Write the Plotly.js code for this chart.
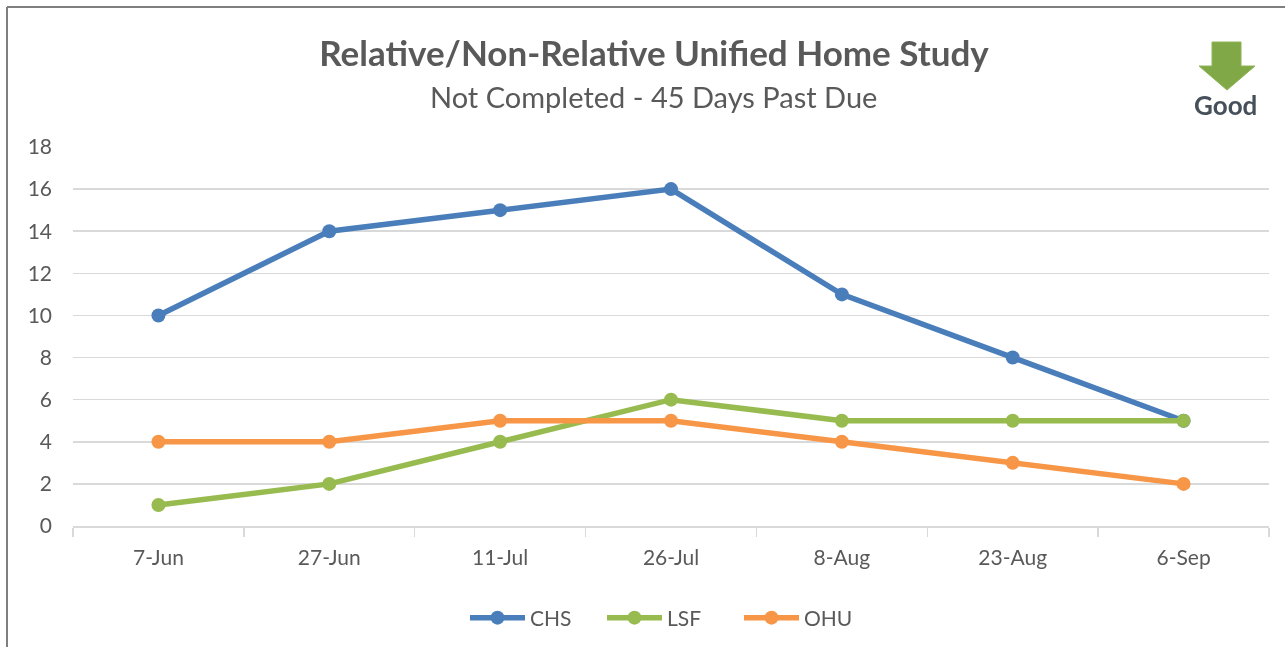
<!DOCTYPE html>
<html><head><meta charset="utf-8">
<script src="https://cdn.plot.ly/plotly-3.0.0.min.js"></script>
<style>html,body{margin:0;padding:0;background:#fff;overflow:hidden}#c{width:1285px;height:647px;filter:blur(0.45px)}</style>
</head><body><div id="c"></div>
<script>
const categories=['7-Jun','27-Jun','11-Jul','26-Jul','8-Aug','23-Aug','6-Sep'];
const chs=[10,14,15,16,11,8,5];
const lsf=[1,2,4,6,5,5,5];
const ohu=[4,4,5,5,4,3,2];
const W=1285,H=647,L=73,R=1269,T=147,B=526;
const px=x=>(x-L)/(R-L), py=y=>(B-y)/(B-T);
const font='Lato, "Open Sans", sans-serif';
function tr(name,y,color){return {type:'scatter',mode:'lines+markers',name,x:categories,y,
  line:{color,width:5.5},marker:{color,size:14}};}
const arrow=[[1212,42],[1241,42],[1241,66],[1255,66],[1227,90],[1199,66],[1212,66]];
const layout={
  width:W,height:H,margin:{l:L,r:W-R,t:T,b:H-B,pad:0,autoexpand:false},
  paper_bgcolor:'#fff',plot_bgcolor:'#fff',showlegend:true,
  font:{family:font,color:'#595959',size:20},
  title:{text:'<b>Relative/Non-Relative Unified Home Study</b>',font:{family:font,size:35,color:'#595959'},
    x:654/W,xanchor:'center',y:1-54/H,yanchor:'middle'},
  xaxis:{type:'category',range:[-0.5,6.5],tickson:'boundaries',ticks:'outside',ticklen:9,tickcolor:'#d9d9d9',tickwidth:1.5,
    showline:true,linecolor:'#d9d9d9',linewidth:1.5,showgrid:false,zeroline:false,tickfont:{size:21,color:'#595959'},ticklabelstandoff:12,automargin:false},
  yaxis:{range:[0,18],dtick:2,gridcolor:'#d9d9d9',gridwidth:1.5,showline:false,zeroline:false,ticks:'',ticklabelstandoff:20,
    tickfont:{size:21,color:'#595959'},automargin:false},
  legend:{orientation:'h',x:px(465),xanchor:'left',y:py(618),yanchor:'middle',itemwidth:55,entrywidth:67,entrywidthmode:'pixels',
    font:{size:21,color:'#595959'},traceorder:'normal',itemsizing:'trace'},
  annotations:[
    {text:'Not Completed - 45 Days Past Due',xref:'paper',yref:'paper',x:px(653),y:py(96),xanchor:'center',yanchor:'middle',showarrow:false,font:{size:29,color:'#595959'}},
    {text:'<b>Good</b>',xref:'paper',yref:'paper',x:px(1225),y:py(105),xanchor:'center',yanchor:'middle',showarrow:false,font:{size:26,color:'#46505a'}}
  ],
  shapes:[
    {type:'line',xref:'paper',yref:'paper',x0:px(7),x1:px(7),y0:py(7),y1:py(670),line:{color:'#7f7f7f',width:2}},
    {type:'line',xref:'paper',yref:'paper',x0:px(7),x1:px(1290),y0:py(7),y1:py(7),line:{color:'#7f7f7f',width:2}},
    {type:'path',xref:'paper',yref:'paper',path:'M'+arrow.map(p=>px(p[0])+' '+py(p[1])).join(' L ')+' Z',fillcolor:'#80a846',line:{color:'#8fb456',width:1}}
  ]
};
Plotly.newPlot('c',[tr('CHS',chs,'#4a7ebb'),tr('LSF',lsf,'#98bb50'),tr('OHU',ohu,'#f79646')],layout,{displayModeBar:false,staticPlot:true});
</script></body></html>
